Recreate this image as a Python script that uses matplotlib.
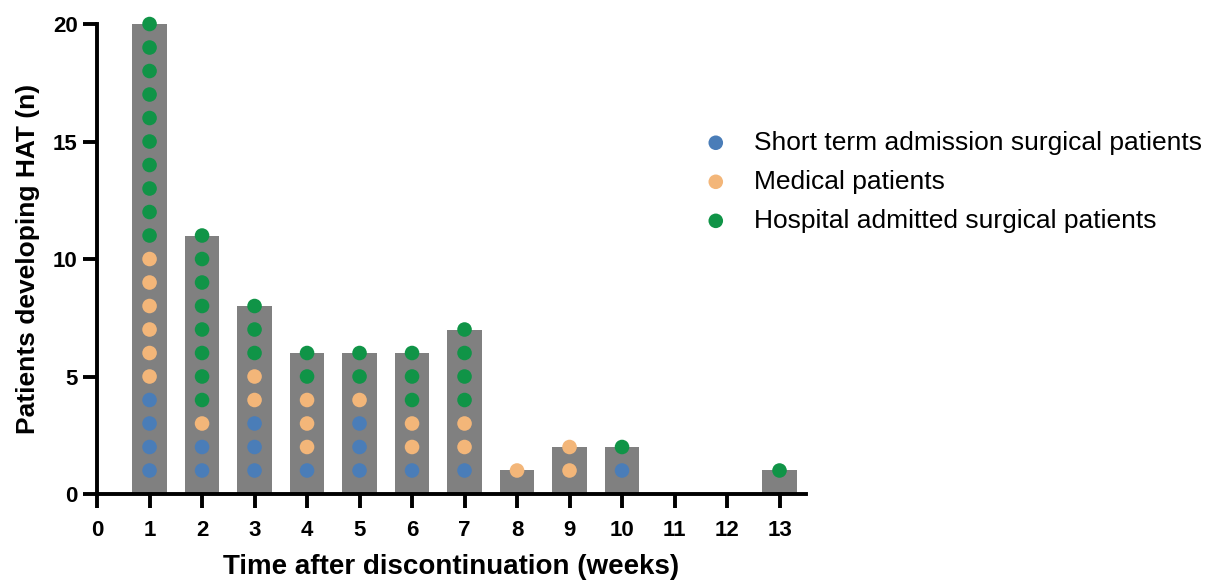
import numpy as np
import matplotlib
matplotlib.use('Agg')
import matplotlib.pyplot as plt

plt.rcParams['font.family'] = ['Liberation Sans', 'DejaVu Sans']

weeks = [1, 2, 3, 4, 5, 6, 7, 8, 9, 10, 11, 12, 13]
short_term = [4, 2, 3, 1, 3, 1, 1, 0, 0, 1, 0, 0, 0]
medical = [6, 1, 2, 3, 1, 2, 2, 1, 2, 0, 0, 0, 0]
hospital = [10, 8, 3, 2, 2, 3, 4, 0, 0, 1, 0, 0, 1]
labels = ['Short term admission surgical patients', 'Medical patients',
          'Hospital admitted surgical patients']
colors = ['#4a7db8', '#f3b679', '#109447']

totals = np.array(short_term) + np.array(medical) + np.array(hospital)

fig = plt.figure(figsize=(12.24, 5.86), dpi=100)
ax = fig.add_axes([0.0793, 0.157, 0.579, 0.802])

ax.bar(weeks, totals, width=0.65, color='#808080', zorder=1)

# one dot per patient, stacked in group order at heights 1..n
for w, a, b, c in zip(weeks, short_term, medical, hospital):
    level = 0
    for n, col in zip([a, b, c], colors):
        if n == 0:
            continue
        ys = np.arange(level + 1, level + n + 1)
        ax.scatter([w] * n, ys, s=110, color=col, edgecolors='none', zorder=3, clip_on=False)
        level += n

handles = [ax.scatter([], [], s=110, color=col, edgecolors='none') for col in colors]

ax.set_xlim(0, 13.5)
ax.set_ylim(0, 20)
ax.set_xticks(range(0, 14))
ax.set_yticks([0, 5, 10, 15, 20])
for s in ['top', 'right']:
    ax.spines[s].set_visible(False)
for s in ['left', 'bottom']:
    ax.spines[s].set_linewidth(2.8)
ax.spines['bottom'].set_zorder(4)
ax.tick_params(width=2.8, length=10, labelsize=16)
ax.tick_params(axis='x', pad=9)
ax.tick_params(axis='y', pad=4)
for t in ax.get_xticklabels() + ax.get_yticklabels():
    t.set_fontweight('bold')

ax.set_xlabel('Time after discontinuation (weeks)', fontsize=20, fontweight='bold', labelpad=9)
ax.set_ylabel('Patients developing HAT (n)', fontsize=19, fontweight='bold', labelpad=9)

fig.legend(handles, labels, loc='upper left', bbox_to_anchor=(0.574, 0.777), frameon=False,
           fontsize=19, handlelength=1.0, handletextpad=0.95, labelspacing=0.57,
           borderpad=0, borderaxespad=0, scatterpoints=1)

plt.savefig('out.png', dpi=100)
